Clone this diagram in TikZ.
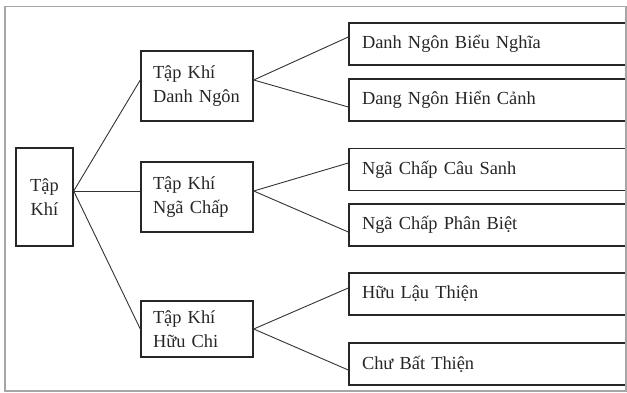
\documentclass[tikz,border=0pt]{standalone}
\usepackage{fontspec}
\setmainfont{Liberation Serif}
\begin{document}
\begin{tikzpicture}[x=1pt,y=-1pt,
  box/.style={draw=black!85,line width=1.4pt,rectangle,inner sep=0pt,
    font=\fontsize{18.4}{24}\selectfont,text=black!85},
  midbox/.style={box,minimum width=112pt,text width=88pt,align=left},
  leafbox/.style={box,minimum width=290pt,minimum height=42pt,text width=264pt,align=left},
  conn/.style={draw=black!80,line width=0.9pt}]
\useasboundingbox (0,0) rectangle (627,392);
\begin{scope}
\clip (0,0) rectangle (626,392);
\node[box,minimum width=57pt,minimum height=98pt,align=center] (root) at (44.5,197) {Tập\\Khí};
\node[midbox,minimum height=70pt] (dn) at (197,86) {Tập Khí\\Danh Ngôn};
\node[midbox,minimum height=70pt] (nc) at (197,197) {Tập Khí\\Ngã Chấp};
\node[midbox,minimum height=56pt] (hc) at (197,329) {Tập Khí\\Hữu Chi};
\node[leafbox] (r1) at (494,44) {Danh Ngôn Biểu Nghĩa};
\node[leafbox] (r2) at (494,100) {Dang Ngôn Hiển Cảnh};
\node[leafbox] (r3) at (494,169.5) {Ngã Chấp Câu Sanh};
\node[leafbox] (r4) at (494,225) {Ngã Chấp Phân Biệt};
\node[leafbox] (r5) at (494,294) {Hữu Lậu Thiện};
\node[leafbox] (r6) at (494,364) {Chư Bất Thiện};
\end{scope}
\draw[black!35,line width=1.2pt] (5,6.5) rectangle (626,391);
\coordinate (rootout) at ([yshift=6pt]root.east);
\draw[conn] (rootout) -- ([yshift=6pt]dn.west);
\draw[conn] (rootout) -- ([yshift=6pt]nc.west);
\draw[conn] (rootout) -- (hc.west);
\draw[conn] ([yshift=7pt]r1.west) -- ([yshift=6pt]dn.east) -- ([yshift=-7pt]r2.west);
\draw[conn] ([yshift=6.5pt]r3.west) -- ([yshift=6pt]nc.east) -- ([yshift=-7pt]r4.west);
\draw[conn] ([yshift=6pt]r5.west) -- (hc.east) -- ([yshift=-6pt]r6.west);
\end{tikzpicture}
\end{document}
